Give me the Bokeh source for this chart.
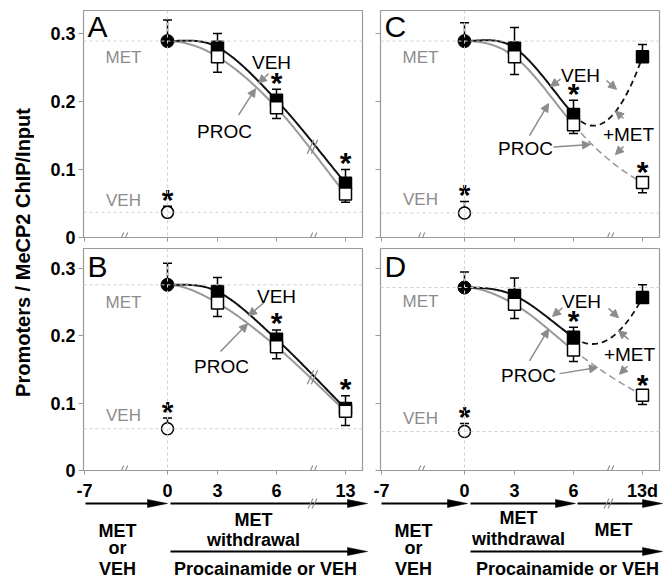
import numpy as np
from bokeh.plotting import figure
from bokeh.layouts import column, row
from bokeh.models import Range1d, Span, Label, Arrow, NormalHead, FixedTicker, CustomJSTickFormatter
from bokeh.embed import file_html
from bokeh.resources import INLINE
from bokeh.core.properties import value

# ---------------- data ----------------
AXIS_DAYS = [-7, 0, 3, 6, 13]
AXIS_LABELS_LEFT = ["-7", "0", "3", "6", "13"]
AXIS_LABELS_RIGHT = ["-7", "0", "3", "6", "13d"]
Y_TICKS = [0, 0.1, 0.2, 0.3]
Y_TICK_LABELS = ["0", "0.1", "0.2", "0.3"]
TREAT_DAYS = [3, 6, 13]

# Panel A
A_met0, A_met0_err = 0.289, 0.320
A_veh0, A_veh0_err = 0.037, 0.046
A_veh = [0.280, 0.202, 0.080]
A_veh_err = [0.300, 0.218, 0.100]
A_proc = [0.266, 0.191, 0.064]
A_proc_err = [0.243, 0.175, 0.052]
# Panel B
B_met0, B_met0_err = 0.276, 0.308
B_veh0, B_veh0_err = 0.062, 0.078
B_veh = [0.266, 0.195, 0.092]
B_veh_err = [0.287, 0.209, 0.111]
B_proc = [0.249, 0.184, 0.088]
B_proc_err = [0.229, 0.166, 0.067]
# Panel C (day 13 = +MET)
C_met0, C_met0_err = 0.289, 0.316
C_veh0, C_veh0_err = 0.036, 0.053
C_veh = [0.279, 0.181, 0.266]
C_veh_err = [0.309, 0.202, 0.284]
C_proc = [0.266, 0.166, 0.081]
C_proc_err = [0.240, 0.153, 0.066]
# Panel D (day 13 = +MET)
D_met0, D_met0_err = 0.272, 0.295
D_veh0, D_veh0_err = 0.058, 0.070
D_veh = [0.260, 0.198, 0.257]
D_veh_err = [0.286, 0.213, 0.276]
D_proc = [0.247, 0.179, 0.112]
D_proc_err = [0.226, 0.162, 0.098]

# ---------------- layout / style ----------------
FONT = "Liberation Sans"
BOX = "#9a9a9a"
GRAY = "#8c8c8c"
REF = "#d0d0d0"
PROC_LINE = "#999999"
FRAME_W = 279
TOP_H, BOT_H = 227, 222              # frame heights of upper / lower panels
TOP_YMAX, BOT_YMAX = 0.334, 0.330
AXIS_POS = [1, 84, 134, 193, 262]     # broken x-axis scale (pixel positions of the axis days)
BREAK_POS = [40, 229]
BLANK = CustomJSTickFormatter(code="return ''")


def xpos(days):
    return np.interp(days, AXIS_DAYS, AXIS_POS)


def smooth(xs, ys, n=60):
    xs = np.asarray(xs, float)
    ys = np.asarray(ys, float)
    ms = np.zeros(len(xs))
    for i in range(1, len(xs) - 1):
        ms[i] = (ys[i + 1] - ys[i - 1]) / (xs[i + 1] - xs[i - 1])
    ms[-1] = (ys[-1] - ys[-2]) / (xs[-1] - xs[-2])
    t = np.linspace(0, 1, n)
    h00 = 2 * t**3 - 3 * t**2 + 1
    h10 = t**3 - 2 * t**2 + t
    h01 = -2 * t**3 + 3 * t**2
    h11 = t**3 - t**2
    X, Y = [], []
    for i in range(len(xs) - 1):
        L = xs[i + 1] - xs[i]
        X.extend(xs[i] + t * L)
        Y.extend(h00 * ys[i] + h10 * L * ms[i] + h01 * ys[i + 1] + h11 * L * ms[i + 1])
    return np.array(X), np.array(Y), ms[-1]


def parabola(x0, y0, x1, y1, m0, n=60):
    t = np.linspace(0, 1, n)
    L = x1 - x0
    return x0 + t * L, y0 + m0 * L * t + (y1 - y0 - m0 * L) * t**2


ANNOT = {
    "A": dict(texts=[("VEH", 188, 0.249), ("PROC", 141, 0.147)],
              arrows=[(185, 0.241, 175, 0.227), (155, 0.180, 172, 0.219)],
              met_lab=0.256, veh_lab=0.046, letter_drop=0),
    "B": dict(texts=[("VEH", 193, 0.250), ("PROC", 138, 0.146)],
              arrows=[(180, 0.249, 165, 0.230), (137, 0.177, 164, 0.218)],
              met_lab=0.241, veh_lab=0.073, letter_drop=5),
    "C": dict(texts=[("VEH", 200, 0.230), ("+MET", 248, 0.143), ("PROC", 145, 0.122)],
              arrows=[(180, 0.233, 170, 0.222), (226, 0.231, 236, 0.218),
                      (243, 0.175, 235, 0.186), (243, 0.134, 235, 0.122),
                      (149, 0.150, 168, 0.197), (173, 0.133, 210, 0.137)],
              met_lab=0.256, veh_lab=0.047, letter_drop=0),
    "D": dict(texts=[("VEH", 201, 0.242), ("+MET", 249, 0.163), ("PROC", 148, 0.132)],
              arrows=[(182, 0.242, 172, 0.229), (228, 0.241, 238, 0.227),
                      (248, 0.195, 238, 0.208), (247, 0.155, 239, 0.143),
                      (149, 0.163, 168, 0.210), (179, 0.144, 217, 0.153)],
              met_lab=0.242, veh_lab=0.068, letter_drop=5),
}


def break_mark(p, x, y, pxu, half_h, color, width=1.2):
    # a "//" pair of slashes drawn as two headless arrows (not clipped at the frame edge)
    for k in (-2.0, 2.0):
        p.add_layout(Arrow(x_start=x + k - half_h * 0.45, y_start=y - half_h / pxu,
                           x_end=x + k + half_h * 0.45, y_end=y + half_h / pxu,
                           end=None, line_color=color, line_width=width))


def build_panel(letter, met0, met0_err, veh0, veh0_err, veh, veh_err, proc, proc_err,
                rescue, show_labels, width, height, borders, frame_h, y_max):
    bl, br, bt, bb = borders
    pxu = frame_h / y_max
    lift = 6 / pxu
    p = figure(width=width, height=height, x_range=Range1d(0, FRAME_W), y_range=Range1d(0, y_max),
               output_backend="svg", toolbar_location=None, title=None,
               min_border_left=bl, min_border_right=br, min_border_top=bt, min_border_bottom=bb)
    p.grid.visible = False
    p.outline_line_color = BOX
    p.outline_line_width = 1.2
    p.background_fill_color = "white"
    p.border_fill_color = "white"

    for ax in (p.xaxis, p.yaxis):
        ax.axis_line_color = BOX
        ax.major_tick_line_color = BOX
        ax.minor_tick_line_color = None
        ax.major_tick_in = 0
    p.yaxis.ticker = FixedTicker(ticks=Y_TICKS)
    p.yaxis.major_tick_out = 5
    if show_labels:
        p.yaxis.major_label_overrides = {t: lab for t, lab in zip(Y_TICKS, Y_TICK_LABELS)}
        p.yaxis.major_label_text_font = FONT
        p.yaxis.major_label_text_font_style = "bold"
        p.yaxis.major_label_text_font_size = "18px"
        p.yaxis.major_label_text_color = "black"
        p.yaxis.major_label_standoff = 3
    else:
        p.yaxis.formatter = BLANK
        p.yaxis.major_label_standoff = 0
    p.xaxis.ticker = FixedTicker(ticks=list(xpos(AXIS_DAYS)))
    p.xaxis.major_tick_out = 4
    p.xaxis.formatter = BLANK
    p.xaxis.major_label_standoff = 0

    # reference lines
    p.add_layout(Span(location=met0, dimension="width", line_color=REF, line_dash="3 3", line_width=1))
    p.add_layout(Span(location=veh0, dimension="width", line_color=REF, line_dash="3 3", line_width=1))
    p.add_layout(Span(location=xpos(0), dimension="height", line_color=REF, line_dash="3 3", line_width=1))

    xs_all = xpos([0] + TREAT_DAYS)
    if not rescue:
        gx, gy, _ = smooth(xs_all, [met0] + proc)
        bx, by, _ = smooth(xs_all, [met0] + veh)
        p.line(gx, gy, line_color=PROC_LINE, line_width=2)
        p.line(bx, by, line_color="#111111", line_width=2)
        ymid = 0.5 * (np.interp(BREAK_POS[1], gx, gy) + np.interp(BREAK_POS[1], bx, by))
        break_mark(p, BREAK_POS[1], ymid, pxu, 7, GRAY, 1.3)
    else:
        gx, gy, gm = smooth(xs_all[:3], [met0] + proc[:2])
        bx, by, bm = smooth(xs_all[:3], [met0] + veh[:2])
        p.line(gx, gy, line_color=PROC_LINE, line_width=2)
        p.line(bx, by, line_color="#111111", line_width=2)
        dgx, dgy = parabola(xs_all[2], proc[1], xs_all[3], proc[2], gm)
        dbx, dby = parabola(xs_all[2], veh[1], xs_all[3], veh[2], bm)
        p.line(dgx, dgy, line_color=PROC_LINE, line_width=1.6, line_dash="7 4")
        p.line(dbx, dby, line_color="#111111", line_width=1.8, line_dash="6 4")

    tx = xpos(TREAT_DAYS)
    x0 = xpos(0)
    # error bars (stems + caps)
    sx = [x0, x0] + list(tx) + list(tx)
    sy0 = [met0, veh0] + veh + proc
    sy1 = [met0_err, veh0_err] + veh_err + proc_err
    p.segment(sx, sy0, sx, sy1, line_color="black", line_width=1.5)
    p.scatter(sx, sy1, marker="dash", size=9, line_color="black", line_width=1.5)

    # markers
    p.scatter([x0], [met0], marker="circle", size=13, fill_color="black", line_color="black")
    p.scatter([x0], [veh0], marker="circle", size=12, fill_color="white", line_color="black", line_width=1.5)
    p.scatter(tx, veh, marker="square", size=12, fill_color="black", line_color="black", line_width=1.5)
    p.scatter(tx, proc, marker="square", size=12, fill_color="white", line_color="black", line_width=1.5)

    # significance stars
    if rescue:
        anchors = [(x0, veh0_err), (tx[1], veh_err[1]), (tx[2], proc[2] + 4 / pxu)]
    else:
        anchors = [(x0, veh0_err), (tx[1], veh_err[1]), (tx[2], veh_err[2])]
    p.text([a[0] for a in anchors], [a[1] + 7 / pxu for a in anchors], text=["*"] * len(anchors),
           text_font=value(FONT), text_font_style="bold", text_font_size="30px",
           text_align="center", text_baseline="alphabetic", text_color="black")

    ann = ANNOT[letter]
    p.add_layout(Label(x=40, y=ann["met_lab"] + lift, text="MET", text_font=FONT, text_font_size="17px",
                       text_color=GRAY, text_align="center", text_baseline="alphabetic"))
    p.add_layout(Label(x=40, y=ann["veh_lab"] + lift, text="VEH", text_font=FONT, text_font_size="17px",
                       text_color=GRAY, text_align="center", text_baseline="alphabetic"))
    for txt, x, y in ann["texts"]:
        p.add_layout(Label(x=x, y=y + lift, text=txt, text_font=FONT, text_font_size="19px",
                           text_color="black", text_align="center", text_baseline="alphabetic"))
    for (xa, ya, xb, yb) in ann["arrows"]:
        p.add_layout(Arrow(x_start=xa, y_start=ya, x_end=xb, y_end=yb, line_color=GRAY, line_width=1.5,
                           end=NormalHead(size=8, fill_color=GRAY, line_color=GRAY)))
    # panel letter
    p.add_layout(Label(x=4, y=0.296 + (10 - ann["letter_drop"]) / pxu, text=letter, text_font=FONT,
                       text_font_size="30px", text_color="black", text_align="left",
                       text_baseline="alphabetic"))
    # axis breaks
    for bpos in BREAK_POS:
        break_mark(p, bpos, 0, pxu, 5, GRAY, 1.1)
    return p


def build_timeline(width, x_start, labels, arrows, breaks, texts):
    H = 98
    p = figure(width=width, height=H, x_range=Range1d(x_start, x_start + width),
               y_range=Range1d(H, 0), output_backend="svg", toolbar_location=None, title=None,
               min_border=0, x_axis_location=None, y_axis_location=None)
    p.grid.visible = False
    p.outline_line_color = None
    p.text(xpos(AXIS_DAYS), [10] * len(AXIS_DAYS), text=labels, text_font=value(FONT),
           text_font_style="bold", text_font_size="18px", text_align="center",
           text_baseline="alphabetic", text_color="black")
    for (d0, d1, o0, o1, y) in arrows:
        xa = float(xpos(d0)) + o0
        xb = float(xpos(d1)) + o1
        p.segment([xa], [y], [xb - 18], [y], line_color="black", line_width=1.8)
        p.patch([xb - 20, xb, xb - 20], [y - 4, y, y + 4], fill_color="black", line_color="black",
                line_width=0.5)
    for (bx, y) in breaks:
        for k in (-2.0, 2.0):
            p.segment([bx + k - 2.5], [y + 5], [bx + k + 2.5], [y - 5], line_color=GRAY, line_width=1.1)
    for (txt, x, y) in texts:
        p.text([x], [y], text=[txt], text_font=value(FONT), text_font_style="bold",
               text_font_size="18px", text_align="center", text_baseline="alphabetic",
               text_color="black")
    return p


YLAB_W = 34
LEFT_W = 83 - YLAB_W + FRAME_W + 6
RIGHT_W = 12 + FRAME_W + 4
pA = build_panel("A", A_met0, A_met0_err, A_veh0, A_veh0_err, A_veh, A_veh_err, A_proc, A_proc_err,
                 False, True, LEFT_W, 10 + TOP_H + 11, (83 - YLAB_W, 6, 10, 11), TOP_H, TOP_YMAX)
pC = build_panel("C", C_met0, C_met0_err, C_veh0, C_veh0_err, C_veh, C_veh_err, C_proc, C_proc_err,
                 True, False, RIGHT_W, 10 + TOP_H + 11, (12, 4, 10, 11), TOP_H, TOP_YMAX)
pB = build_panel("B", B_met0, B_met0_err, B_veh0, B_veh0_err, B_veh, B_veh_err, B_proc, B_proc_err,
                 False, True, LEFT_W, BOT_H + 10, (83 - YLAB_W, 6, 0, 10), BOT_H, BOT_YMAX)
pD = build_panel("D", D_met0, D_met0_err, D_veh0, D_veh0_err, D_veh, D_veh_err, D_proc, D_proc_err,
                 True, False, RIGHT_W, BOT_H + 10, (12, 4, 0, 10), BOT_H, BOT_YMAX)

# y-axis title
YLAB_H = 10 + TOP_H + 11 + BOT_H + 10
py = figure(width=YLAB_W, height=YLAB_H, x_range=Range1d(0, YLAB_W), y_range=Range1d(YLAB_H, 0),
            output_backend="svg", toolbar_location=None, title=None, min_border=0,
            x_axis_location=None, y_axis_location=None)
py.grid.visible = False
py.outline_line_color = None
py.add_layout(Label(x=22, y=252, text="Promoters / MeCP2 ChIP/Input", angle=np.pi / 2,
                    text_font=FONT, text_font_style="bold", text_font_size="20px",
                    text_align="center", text_baseline="middle", text_color="black"))

tl_left = build_timeline(
    368, -83, AXIS_LABELS_LEFT,
    arrows=[(-7, 0, 1, 0, 23), (0, 13, 3, 22, 23), (0, 13, 3, 22, 71)],
    breaks=[(229, 23)],
    texts=[("MET", 34, 50), ("or", 34, 67), ("VEH", 34, 88),
           ("MET", 170, 39), ("withdrawal", 170, 59), ("Procainamide or VEH", 182, 88)])
tl_right = build_timeline(
    295, -12, AXIS_LABELS_RIGHT,
    arrows=[(-7, 0, 0, 3, 23), (0, 6, 6, 2, 23), (6, 13, 4, 20, 23), (0, 13, 6, 20, 71)],
    breaks=[(228, 23)],
    texts=[("MET", 33, 50), ("or", 33, 67), ("VEH", 33, 88),
           ("MET", 138, 37), ("withdrawal", 138, 58), ("MET", 233, 49),
           ("Procainamide or VEH", 187, 88)])

layout = column(
    row(py, column(row(pA, pC), row(pB, pD))),
    row(tl_left, tl_right),
)

open("out.html", "w").write(file_html(layout, INLINE))
